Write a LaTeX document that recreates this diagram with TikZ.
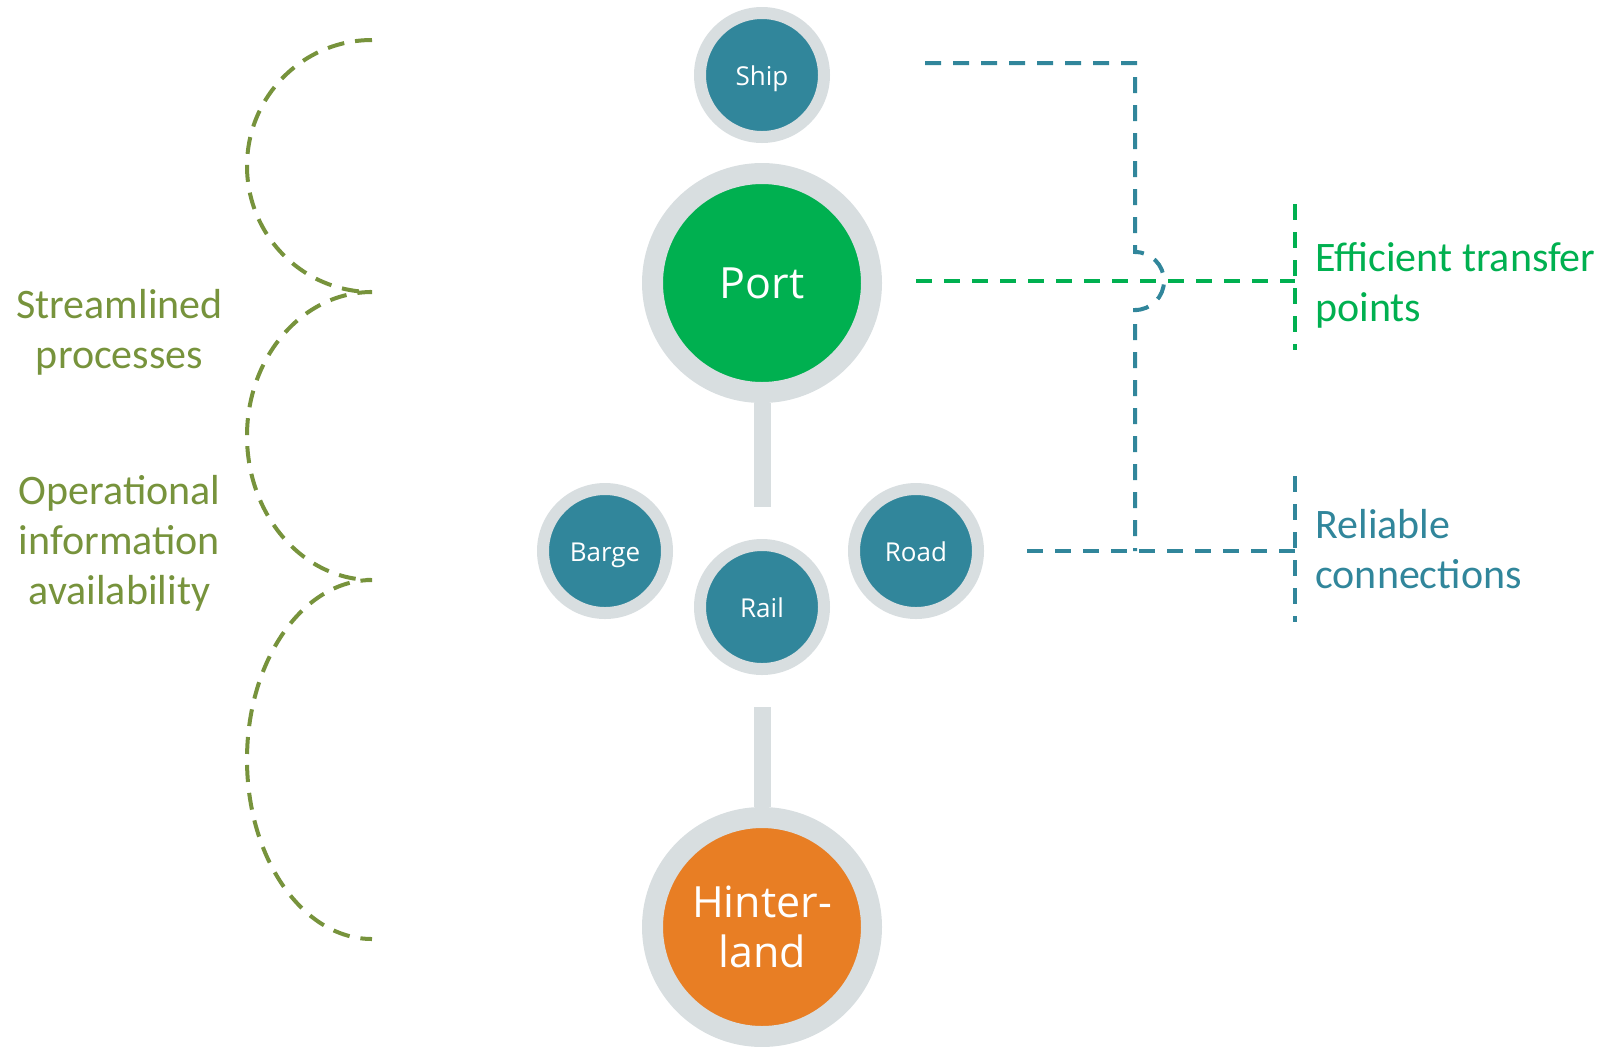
\documentclass[tikz,border=0pt]{standalone}
\usepackage{fontspec}
\setmainfont{Carlito}
\newfontfamily\modefont{Open Sans}
\usetikzlibrary{calc}
\definecolor{modeteal}{RGB}{49,134,155}
\definecolor{portgreen}{RGB}{0,176,80}
\definecolor{hinterorange}{RGB}{232,126,36}
\definecolor{ringgrey}{RGB}{216,222,224}
\definecolor{olive}{RGB}{119,147,60}
\tikzset{
  mode/.style={
    circle,
    fill=modeteal,
    draw=ringgrey, line width=6pt,
    minimum size=62pt,
    inner sep=0pt,
    text=white,
    text height=1.05em, text depth=0pt,
    font=\modefont\fontsize{13}{15}\selectfont},
  hub/.style={
    circle,
    draw=ringgrey, line width=10.5pt,
    minimum size=109.5pt,
    inner sep=0pt,
    text=white,
    align=center,
    font=\modefont\fontsize{21.5}{25}\selectfont},
  stem/.style={draw=ringgrey, line width=8.5pt},
  link/.style={line width=2pt, dash pattern=on 8pt off 6pt},
  bracearc/.style={draw=olive, line width=2pt, dash pattern=on 8.5pt off 5.5pt},
  sidetext/.style={
    inner sep=0pt,
    font=\fontsize{21}{25}\selectfont},
}

\begin{document}
\begin{tikzpicture}[x=0.5pt,y=-0.5pt]
  \useasboundingbox (0,0) rectangle (1612,1046);
  % the chain of modes
  \node[mode] (ship) at (762,75) {Ship};
  \node[hub, fill=portgreen] (port) at (762,283) {Port};
  \node[mode] (barge) at (605,551) {Barge};
  \node[mode] (rail) at (762,607) {Rail};
  \node[mode] (road) at (916,551) {Road};
  \node[hub, fill=hinterorange] (hinter) at (762,927) {Hinter-\\land};
  \draw[stem, shorten >=16pt] (port.south) -- (rail.north);
  \draw[stem, shorten <=16pt] (rail.south) -- (hinter.north);
  % right hand side
  \coordinate (hubtop) at (1135,63);
  \coordinate (hubbot) at (1135,551);
  \coordinate (effmid) at (1295,281);
  \coordinate (relmid) at (1295,551);
  \draw[link, draw=portgreen, shorten <=17pt] ([yshift=1pt]port.east) -- (effmid);
  \draw[link, draw=portgreen] ($(effmid)+(0,-77)$) -- ($(effmid)+(0,69)$);
  \draw[link, draw=modeteal, shorten <=47.5pt] ([yshift=6pt]ship.east) -- (hubtop)
    -- (1135,252) arc[start angle=-90, end angle=90, radius=29] -- (hubbot);
  \draw[link, draw=modeteal, shorten <=21.5pt] (road.east) -- (relmid);
  \draw[link, draw=modeteal] ($(relmid)+(0,-75)$) -- ($(relmid)+(0,71)$);
  \node[sidetext, text=portgreen, anchor=west, align=left] (eff) at (1315,285) {Efficient transfer\\points};
  \node[sidetext, text=modeteal, anchor=west, align=left] (rel) at (1315,549) {Reliable\\connections};
  % left hand side
  \draw[bracearc] (372,40)
    arc[start angle=-90, end angle=-270, x radius=125, y radius=126]
    arc[start angle=-90, end angle=-270, x radius=125, y radius=144]
    arc[start angle=-90, end angle=-270, x radius=125, y radius=179.5];
  \node[sidetext, text=olive, align=center] (stream) at (119.5,332) {Streamlined\\processes};
  \node[sidetext, text=olive, align=center] (opinfo) at (119.5,543) {Operational\\information\\availability};
\end{tikzpicture}
\end{document}
